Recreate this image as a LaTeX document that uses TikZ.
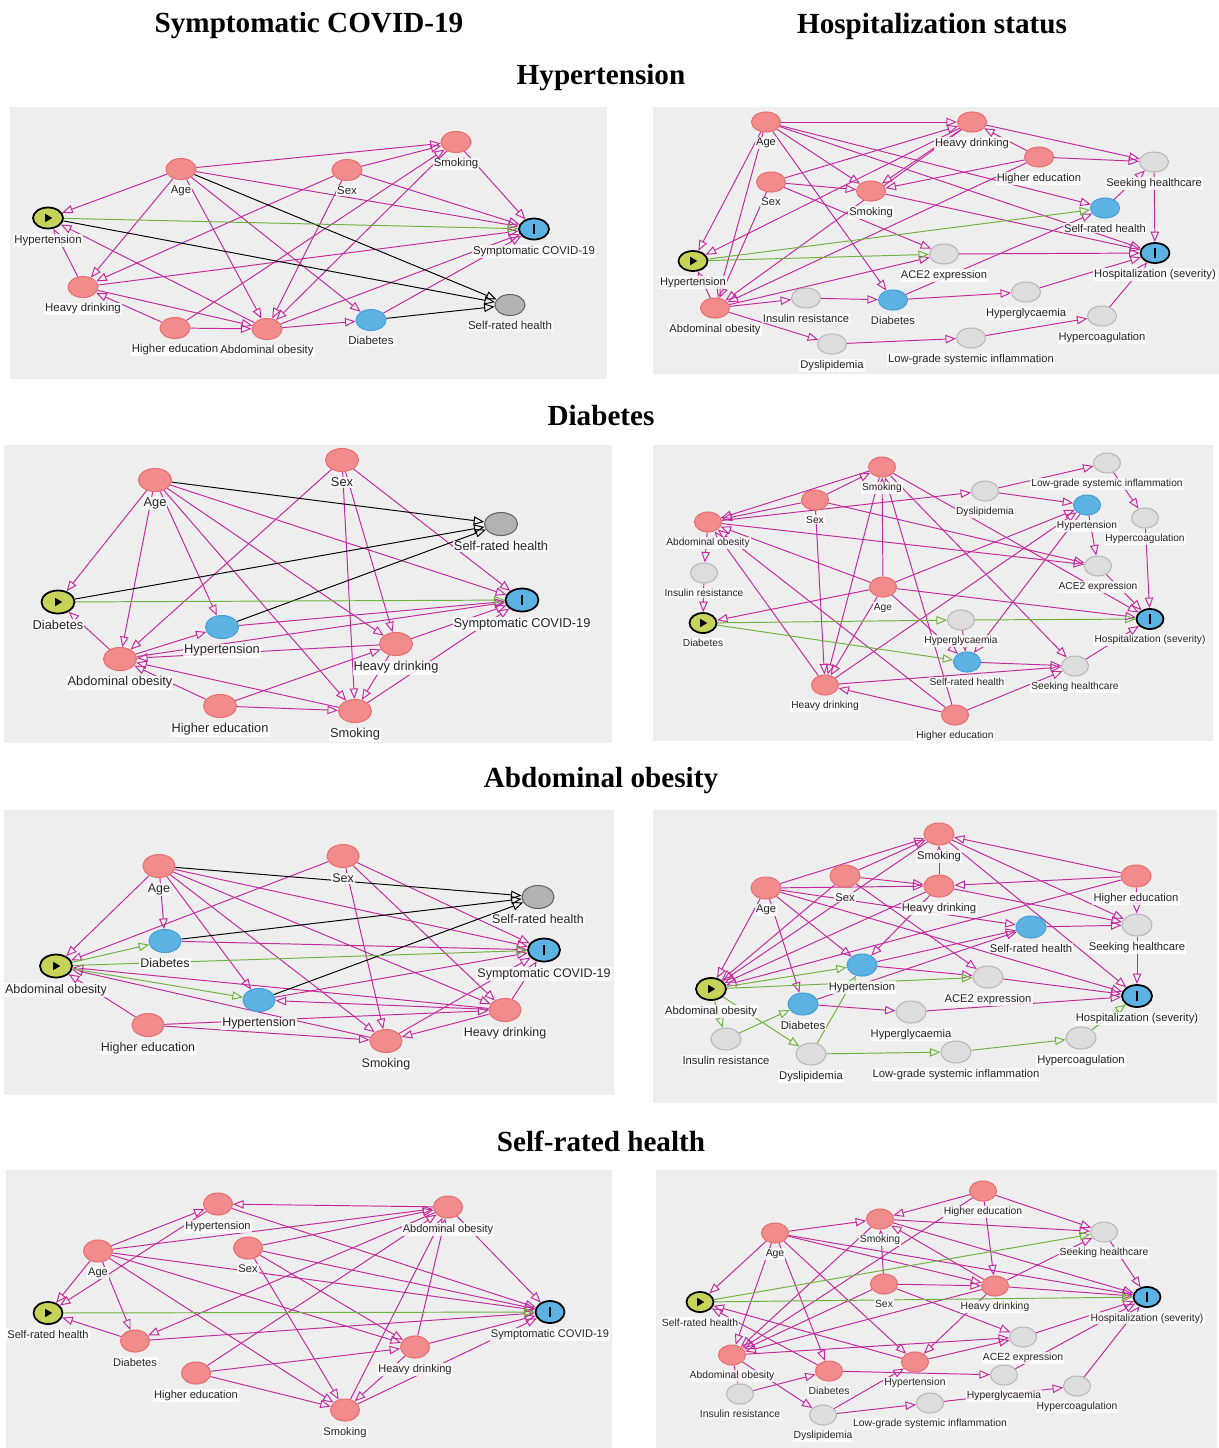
\documentclass[tikz,border=0pt]{standalone}
\usepackage{fontspec}
\setmainfont{Liberation Serif}
\setsansfont{Liberation Sans}
\usetikzlibrary{shapes.geometric,arrows.meta}
\definecolor{panel}{RGB}{238,238,238}
\definecolor{pkfill}{RGB}{242,140,140}
\definecolor{pkline}{RGB}{232,112,112}
\definecolor{blfill}{RGB}{92,178,226}
\definecolor{blline}{RGB}{70,160,215}
\definecolor{gyfill}{RGB}{222,222,222}
\definecolor{gyline}{RGB}{185,185,185}
\definecolor{dkfill}{RGB}{178,178,178}
\definecolor{dkline}{RGB}{100,100,100}
\definecolor{expfill}{RGB}{198,210,88}
\definecolor{mgline}{RGB}{196,42,158}
\definecolor{grline}{RGB}{110,180,60}
\pgfdeclarelayer{back}
\pgfdeclarelayer{edges}
\pgfsetlayers{back,edges,main}

\begin{document}
\begin{tikzpicture}[x=0.02cm, y=-0.02cm,
    nd/.style={ellipse, inner sep=0pt, line width=0.6pt},
    pk/.style={nd, fill=pkfill, draw=pkline},
    bl/.style={nd, fill=blfill, draw=blline},
    gy/.style={nd, fill=gyfill, draw=gyline},
    dk/.style={nd, fill=dkfill, draw=dkline},
    expo/.style={nd, fill=expfill, draw=black, line width=1pt,
      path picture={\fill[black] ([xshift=-1.6pt,yshift=-2.4pt]path picture bounding box.center)
        -- ++(0,4.8pt) -- ++(4pt,-2.4pt) -- cycle;}},
    outc/.style={nd, fill=blfill, draw=black, line width=1pt,
      path picture={\fill[black] ([xshift=-0.7pt,yshift=-2.6pt]path picture bounding box.center)
        rectangle ++(1.4pt,5.2pt);}},
    lb/.style={fill=white, fill opacity=0.8, text opacity=1, inner sep=0.6pt,
      label distance=2.4pt, text=black!85},
    ttl/.style={font=\bfseries\fontsize{16.6}{18}\selectfont},
    mg/.style={draw=mgline, line width=0.55pt, -{Triangle[open,length=6pt,width=4.8pt]}},
    gr/.style={mg, draw=grline},
    bk/.style={mg, draw=black}]
  \useasboundingbox (0,0) rectangle (1219,1448);
  \begin{pgfonlayer}{back}
    \fill[panel] (10,107) rectangle (607,379);
    \fill[panel] (653,107) rectangle (1219,374);
    \fill[panel] (4,445) rectangle (612,743);
    \fill[panel] (653,445) rectangle (1213,741);
    \fill[panel] (4,810) rectangle (614,1095);
    \fill[panel] (653,810) rectangle (1217,1103);
    \fill[panel] (6,1170) rectangle (612,1448);
    \fill[panel] (656,1170) rectangle (1217,1448);
  \end{pgfonlayer}

  \node[ttl] (covid) at (309,26) {Symptomatic COVID-19};
  \node[ttl] (hosp) at (932,26) {Hospitalization status};
  \node[ttl] (thyp) at (601,78) {Hypertension};
  \node[ttl] (tdia) at (601,416) {Diabetes};
  \node[ttl] (tabd) at (601,781) {Abdominal obesity};
  \node[ttl] (tsrh) at (601,1141) {Self-rated health};

  % hypertension, covid
  \begin{scope}[nd/.append style={minimum width=0.6cm, minimum height=0.42cm},
      lb/.append style={font=\sffamily\fontsize{6.5}{7}\selectfont}]
    \node[pk, label={[lb]below:Smoking}] (Asmk) at (456,142) {};
    \node[pk, label={[lb]below:Age}] (Aage) at (181,169) {};
    \node[pk, label={[lb]below:Sex}] (Asex) at (347,170) {};
    \node[expo, label={[lb]below:Hypertension}] (Ahyp) at (48,218) {};
    \node[outc, label={[lb]below:Symptomatic COVID-19}] (Acov) at (534,229) {};
    \node[pk, label={[lb]below:Heavy drinking}] (Ahd) at (83,287) {};
    \node[dk, label={[lb]below:Self-rated health}] (Asrh) at (510,305) {};
    \node[bl, label={[lb]below:Diabetes}] (Adia) at (371,320) {};
    \node[pk, label={[lb]below:Higher education}] (Aedu) at (175,328) {};
    \node[pk, label={[lb]below:Abdominal obesity}] (Aabd) at (267,329) {};
    \begin{pgfonlayer}{edges}
      \foreach \a/\b in {age/smk, sex/smk, edu/smk, age/hyp, age/hd, age/abd, age/dia,
          age/cov, sex/cov, sex/hd, sex/abd, smk/cov, smk/abd, edu/abd, edu/hd, hd/abd,
          hd/hyp, hd/cov, abd/hyp, abd/dia, abd/cov, dia/cov}
        \draw[mg] (A\a) -- (A\b);
      \foreach \a/\b in {age/srh, hyp/srh, dia/srh}
        \draw[bk] (A\a) -- (A\b);
      \draw[gr] (Ahyp) -- (Acov);
    \end{pgfonlayer}
  \end{scope}

  % hypertension, hospitalization
  \begin{scope}[nd/.append style={minimum width=0.58cm, minimum height=0.4cm},
      lb/.append style={font=\sffamily\fontsize{6.35}{7}\selectfont}]
    \node[pk, label={[lb]below:Age}] (Bage) at (766,122) {};
    \node[pk, label={[lb]below:Heavy drinking}] (Bhd) at (972,122) {};
    \node[pk, label={[lb]below:Higher education}] (Bedu) at (1039,157) {};
    \node[gy, label={[lb]below:Seeking healthcare}] (Bseek) at (1154,162) {};
    \node[pk, label={[lb]below:Sex}] (Bsex) at (771,182) {};
    \node[pk, label={[lb]below:Smoking}] (Bsmk) at (871,191) {};
    \node[bl, label={[lb]below:Self-rated health}] (Bsrh) at (1105,208) {};
    \node[expo, label={[lb]below:Hypertension}] (Bhyp) at (693,261) {};
    \node[gy, label={[lb]below:ACE2 expression}] (Bace) at (944,254) {};
    \node[outc, label={[lb]below:Hospitalization (severity)}] (Bhos) at (1155,253) {};
    \node[pk, label={[lb]below:Abdominal obesity}] (Babd) at (715,308) {};
    \node[gy, label={[lb]below:Insulin resistance}] (Bins) at (806,298) {};
    \node[bl, label={[lb]below:Diabetes}] (Bdia) at (893,300) {};
    \node[gy, label={[lb]below:Hyperglycaemia}] (Bhgl) at (1026,292) {};
    \node[gy, label={[lb]below:Hypercoagulation}] (Bhco) at (1102,316) {};
    \node[gy, label={[lb]below:Low-grade systemic inflammation}] (Blow) at (971,338) {};
    \node[gy, label={[lb]below:Dyslipidemia}] (Bdys) at (832,344) {};
    \begin{pgfonlayer}{edges}
      \foreach \a/\b in {age/hd, age/smk, age/srh, age/hos, age/dia, age/hyp, age/abd,
          hd/seek, hd/smk, hd/hyp, hd/abd, edu/hd, edu/seek, edu/smk, edu/abd, sex/hd,
          sex/smk, sex/ace, sex/abd, smk/hos, seek/hos, srh/seek, ace/hos, abd/hyp,
          abd/ins, abd/ace, abd/dys, ins/dia, dia/hgl, dia/srh, hgl/hos, dys/low,
          low/hco, hco/hos}
        \draw[mg] (B\a) -- (B\b);
      \foreach \a/\b in {hyp/srh, hyp/ace}
        \draw[gr] (B\a) -- (B\b);
    \end{pgfonlayer}
  \end{scope}

  % diabetes, covid
  \begin{scope}[nd/.append style={minimum width=0.66cm, minimum height=0.46cm},
      lb/.append style={font=\sffamily\fontsize{7.3}{8}\selectfont}]
    \node[pk, label={[lb]below:Sex}] (Csex) at (342,460) {};
    \node[pk, label={[lb]below:Age}] (Cage) at (155,480) {};
    \node[dk, label={[lb]below:Self-rated health}] (Csrh) at (501,524) {};
    \node[expo, label={[lb]below:Diabetes}] (Cdia) at (58,602) {};
    \node[outc, label={[lb]below:Symptomatic COVID-19}] (Ccov) at (522,600) {};
    \node[bl, label={[lb]below:Hypertension}] (Chyp) at (222,627) {};
    \node[pk, label={[lb]below:Heavy drinking}] (Chd) at (396,644) {};
    \node[pk, label={[lb]below:Abdominal obesity}] (Cabd) at (120,659) {};
    \node[pk, label={[lb]below:Higher education}] (Cedu) at (220,706) {};
    \node[pk, label={[lb]below:Smoking}] (Csmk) at (355,711) {};
    \begin{pgfonlayer}{edges}
      \foreach \a/\b in {age/dia, age/abd, age/hyp, age/smk, age/hd, age/cov, sex/abd,
          sex/smk, sex/hd, sex/cov, hyp/cov, abd/hyp, abd/dia, abd/cov, hd/abd, hd/smk,
          hd/cov, smk/abd, smk/cov, edu/abd, edu/smk, edu/hd}
        \draw[mg] (C\a) -- (C\b);
      \foreach \a/\b in {age/srh, dia/srh, hyp/srh}
        \draw[bk] (C\a) -- (C\b);
      \draw[gr] (Cdia) -- (Ccov);
    \end{pgfonlayer}
  \end{scope}

  % diabetes, hospitalization
  \begin{scope}[nd/.append style={minimum width=0.54cm, minimum height=0.4cm},
      lb/.append style={font=\sffamily\fontsize{5.8}{6.5}\selectfont}]
    \node[gy, label={[lb]below:Low-grade systemic inflammation}] (Dlow) at (1107,463) {};
    \node[pk, label={[lb]below:Smoking}] (Dsmk) at (882,467) {};
    \node[gy, label={[lb]below:Dyslipidemia}] (Ddys) at (985,491) {};
    \node[pk, label={[lb]below:Sex}] (Dsex) at (815,500) {};
    \node[bl, label={[lb]below:Hypertension}] (Dhyp) at (1087,505) {};
    \node[pk, label={[lb]below:Abdominal obesity}] (Dabd) at (708,522) {};
    \node[gy, label={[lb]below:Hypercoagulation}] (Dhco) at (1145,518) {};
    \node[gy, label={[lb]below:ACE2 expression}] (Dace) at (1098,566) {};
    \node[gy, label={[lb]below:Insulin resistance}] (Dins) at (704,573) {};
    \node[pk, label={[lb]below:Age}] (Dage) at (883,587) {};
    \node[expo, label={[lb]below:Diabetes}] (Ddia) at (703,623) {};
    \node[outc, label={[lb]below:Hospitalization (severity)}] (Dhos) at (1150,619) {};
    \node[gy, label={[lb]below:Hyperglycaemia}] (Dhgl) at (961,620) {};
    \node[bl, label={[lb]below:Self-rated health}] (Dsrh) at (967,662) {};
    \node[gy, label={[lb]below:Seeking healthcare}] (Dseek) at (1075,666) {};
    \node[pk, label={[lb]below:Heavy drinking}] (Dhd) at (825,685) {};
    \node[pk, label={[lb]below:Higher education}] (Dedu) at (955,715) {};
    \begin{pgfonlayer}{edges}
      \foreach \a/\b in {sex/smk, sex/abd, smk/abd, age/abd, abd/dys, abd/ace, abd/ins,
          ins/dia, sex/ace, sex/hd, smk/hd, age/smk, edu/smk, smk/seek, smk/hos, dys/low,
          dys/hyp, low/hco, hco/hos, hyp/ace, ace/hos, age/hyp, age/dia, age/hos, age/hd,
          age/srh, hgl/srh, hyp/srh, hd/hyp, hd/abd, hd/seek, srh/seek, seek/hos, edu/hd,
          edu/abd, edu/seek}
        \draw[mg] (D\a) -- (D\b);
      \foreach \a/\b in {dia/hgl, hgl/hos, dia/srh}
        \draw[gr] (D\a) -- (D\b);
    \end{pgfonlayer}
  \end{scope}

  % abdominal obesity, covid
  \begin{scope}[nd/.append style={minimum width=0.64cm, minimum height=0.46cm},
      lb/.append style={font=\sffamily\fontsize{7.1}{8}\selectfont}]
    \node[pk, label={[lb]below:Sex}] (Esex) at (343,856) {};
    \node[pk, label={[lb]below:Age}] (Eage) at (159,866) {};
    \node[dk, label={[lb]below:Self-rated health}] (Esrh) at (538,897) {};
    \node[bl, label={[lb]below:Diabetes}] (Edia) at (165,941) {};
    \node[outc, label={[lb]below:Symptomatic COVID-19}] (Ecov) at (544,950) {};
    \node[expo, label={[lb]below:Abdominal obesity}] (Eabd) at (56,966) {};
    \node[bl, label={[lb]below:Hypertension}] (Ehyp) at (259,1000) {};
    \node[pk, label={[lb]below:Heavy drinking}] (Ehd) at (505,1010) {};
    \node[pk, label={[lb]below:Higher education}] (Eedu) at (148,1025) {};
    \node[pk, label={[lb]below:Smoking}] (Esmk) at (386,1041) {};
    \begin{pgfonlayer}{edges}
      \foreach \a/\b in {age/abd, age/dia, age/hyp, age/smk, age/hd, age/cov, sex/abd,
          sex/smk, sex/hd, sex/cov, dia/cov, hyp/cov, hd/hyp, hd/abd, hd/cov, hd/smk,
          smk/abd, smk/cov, edu/abd, edu/smk, edu/hd}
        \draw[mg] (E\a) -- (E\b);
      \foreach \a/\b in {age/srh, dia/srh, hyp/srh}
        \draw[bk] (E\a) -- (E\b);
      \foreach \a/\b in {abd/cov, abd/dia, abd/hyp}
        \draw[gr] (E\a) -- (E\b);
    \end{pgfonlayer}
  \end{scope}

  % abdominal obesity, hospitalization
  \begin{scope}[nd/.append style={minimum width=0.6cm, minimum height=0.44cm},
      lb/.append style={font=\sffamily\fontsize{6.4}{7}\selectfont}]
    \node[pk, label={[lb]below:Smoking}] (Fsmk) at (939,834) {};
    \node[pk, label={[lb]below:Sex}] (Fsex) at (845,876) {};
    \node[pk, label={[lb]below:Higher education}] (Fedu) at (1136,876) {};
    \node[pk, label={[lb]below:Age}] (Fage) at (766,888) {};
    \node[pk, label={[lb]below:Heavy drinking}] (Fhd) at (939,886) {};
    \node[bl, label={[lb]below:Self-rated health}] (Fsrh) at (1031,927) {};
    \node[gy, label={[lb]below:Seeking healthcare}] (Fseek) at (1137,925) {};
    \node[bl, label={[lb]below:Hypertension}] (Fhyp) at (862,965) {};
    \node[gy, label={[lb]below:ACE2 expression}] (Face) at (988,977) {};
    \node[expo, label={[lb]below:Abdominal obesity}] (Fabd) at (711,989) {};
    \node[outc, label={[lb]below:Hospitalization (severity)}] (Fhos) at (1137,996) {};
    \node[bl, label={[lb]below:Diabetes}] (Fdia) at (803,1004) {};
    \node[gy, label={[lb]below:Hyperglycaemia}] (Fhgl) at (911,1012) {};
    \node[gy, label={[lb]below:Insulin resistance}] (Fins) at (726,1039) {};
    \node[gy, label={[lb]below:Hypercoagulation}] (Fhco) at (1081,1038) {};
    \node[gy, label={[lb]below:Dyslipidemia}] (Fdys) at (811,1054) {};
    \node[gy, label={[lb]below:Low-grade systemic inflammation}] (Flow) at (956,1052) {};
    \begin{pgfonlayer}{edges}
      \foreach \a/\b in {age/smk, age/hd, age/abd, age/dia, age/hyp, age/srh, age/hos,
          sex/smk, sex/hd, sex/ace, sex/abd, hd/smk, smk/abd, smk/seek, smk/hos, edu/smk,
          edu/hd, edu/seek, edu/abd, hd/abd, hd/hyp, hd/seek, srh/seek, seek/hos,
          hyp/srh, hyp/ace, dia/hgl, dia/srh, hgl/hos, ace/hos}
        \draw[mg] (F\a) -- (F\b);
      \foreach \a/\b in {abd/hyp, abd/ace, abd/ins, abd/dys, ins/dia, dys/hyp, dys/low,
          low/hco, hco/hos}
        \draw[gr] (F\a) -- (F\b);
    \end{pgfonlayer}
  \end{scope}

  % self-rated health, covid
  \begin{scope}[nd/.append style={minimum width=0.58cm, minimum height=0.44cm},
      lb/.append style={font=\sffamily\fontsize{6.3}{7}\selectfont}]
    \node[pk, label={[lb]below:Hypertension}] (Ghyp) at (218,1204) {};
    \node[pk, label={[lb]below:Abdominal obesity}] (Gabd) at (448,1207) {};
    \node[pk, label={[lb]below:Age}] (Gage) at (98,1251) {};
    \node[pk, label={[lb]below:Sex}] (Gsex) at (248,1248) {};
    \node[expo, label={[lb]below:Self-rated health}] (Gsrh) at (48,1313) {};
    \node[outc, label={[lb]below:Symptomatic COVID-19}] (Gcov) at (550,1312) {};
    \node[pk, label={[lb]below:Diabetes}] (Gdia) at (135,1341) {};
    \node[pk, label={[lb]below:Heavy drinking}] (Ghd) at (415,1347) {};
    \node[pk, label={[lb]below:Higher education}] (Gedu) at (196,1373) {};
    \node[pk, label={[lb]below:Smoking}] (Gsmk) at (345,1410) {};
    \begin{pgfonlayer}{edges}
      \foreach \a/\b in {abd/hyp, abd/cov, abd/dia, age/hyp, age/abd, age/srh, age/dia,
          age/smk, age/hd, age/cov, sex/abd, sex/cov, sex/hd, sex/smk, hyp/srh, hyp/cov,
          dia/srh, dia/cov, hd/abd, hd/cov, hd/smk, smk/abd, smk/cov, edu/abd, edu/hd,
          edu/smk}
        \draw[mg] (G\a) -- (G\b);
      \draw[gr] (Gsrh) -- (Gcov);
    \end{pgfonlayer}
  \end{scope}

  % self-rated health, hospitalization
  \begin{scope}[nd/.append style={minimum width=0.54cm, minimum height=0.4cm},
      lb/.append style={font=\sffamily\fontsize{5.9}{6.5}\selectfont}]
    \node[pk, label={[lb]below:Higher education}] (Hedu) at (983,1191) {};
    \node[pk, label={[lb]below:Smoking}] (Hsmk) at (880,1219) {};
    \node[pk, label={[lb]below:Age}] (Hage) at (775,1233) {};
    \node[gy, label={[lb]below:Seeking healthcare}] (Hseek) at (1104,1232) {};
    \node[pk, label={[lb]below:Sex}] (Hsex) at (884,1284) {};
    \node[pk, label={[lb]below:Heavy drinking}] (Hhd) at (995,1286) {};
    \node[expo, label={[lb]below:Self-rated health}] (Hsrh) at (700,1302) {};
    \node[outc, label={[lb]below:Hospitalization (severity)}] (Hhos) at (1147,1297) {};
    \node[gy, label={[lb]below:ACE2 expression}] (Hace) at (1023,1337) {};
    \node[pk, label={[lb]below:Abdominal obesity}] (Habd) at (732,1355) {};
    \node[pk, label={[lb]below:Hypertension}] (Hhyp) at (915,1362) {};
    \node[pk, label={[lb]below:Diabetes}] (Hdia) at (829,1371) {};
    \node[gy, label={[lb]below:Hyperglycaemia}] (Hhgl) at (1004,1375) {};
    \node[gy, label={[lb]below:Hypercoagulation}] (Hhco) at (1077,1386) {};
    \node[gy, label={[lb]below:Insulin resistance}] (Hins) at (740,1394) {};
    \node[gy, label={[lb]below:Low-grade systemic inflammation}] (Hlow) at (930,1403) {};
    \node[gy, label={[lb]below:Dyslipidemia}] (Hdys) at (823,1415) {};
    \begin{pgfonlayer}{edges}
      \foreach \a/\b in {edu/smk, edu/seek, edu/hd, edu/abd, age/smk, age/srh, age/abd,
          age/dia, age/hyp, age/hd, age/hos, smk/seek, smk/hos, sex/smk, smk/abd, hd/smk,
          sex/hd, sex/ace, sex/abd, hd/seek, hd/hos, hd/hyp, hd/abd, seek/hos, dia/srh,
          hyp/srh, abd/ace, abd/ins, abd/dys, ins/dia, dys/hyp, dys/low, low/hco, hco/hos,
          dia/hgl, hgl/hos, hyp/ace, ace/hos}
        \draw[mg] (H\a) -- (H\b);
      \foreach \a/\b in {srh/seek, srh/hos}
        \draw[gr] (H\a) -- (H\b);
    \end{pgfonlayer}
  \end{scope}
\end{tikzpicture}
\end{document}
